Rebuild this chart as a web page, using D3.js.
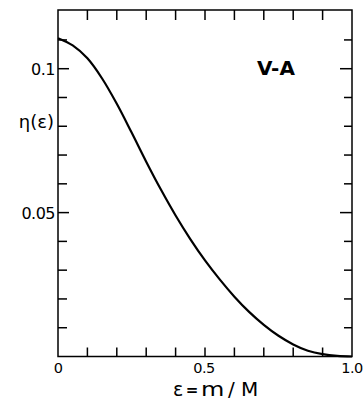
<!DOCTYPE html>
<html><head><meta charset="utf-8">
<script src="https://cdn.jsdelivr.net/npm/d3@7"></script>
<style>body{margin:0;background:#fff}svg{display:block}text{font-family:"DejaVu Sans",sans-serif;fill:#000}</style>
</head><body>
<svg id="c" width="363" height="402"></svg>
<script>
const epsilon = [0,0.05,0.1,0.15,0.2,0.25,0.3,0.35,0.4,0.45,0.5,0.55,0.6,0.65,0.7,0.75,0.8,0.85,0.9,0.95,1.0];
const eta = [0.1106,0.1081,0.1036,0.0966,0.0878,0.0779,0.0677,0.0580,0.0490,0.0408,0.0334,0.0268,0.0208,0.0155,0.0110,0.0072,0.0042,0.0020,0.0008,0.0002,0];
const xTickLabels = ["0","0.5","1.0"];
const yTickLabels = ["0.05","0.1"];

const svg = d3.select("#c");
const L=58,R=352,T=10,B=356.5;
const x = d3.scaleLinear().domain([0,1]).range([L,R]);
const y = d3.scaleLinear().domain([0,0.1204]).range([B,T]);

// frame
svg.append("rect").attr("x",L).attr("y",T).attr("width",R-L).attr("height",B-T)
  .attr("fill","none").attr("stroke","#000").attr("stroke-width",1.5);

const xt = d3.range(1,10).map(i=>i/10);
const yt = d3.range(1,12).map(i=>i/100);
const g = svg.append("g").attr("stroke","#000").attr("stroke-width",1.5);
xt.forEach(v=>{
  g.append("line").attr("x1",x(v)).attr("x2",x(v)).attr("y1",B).attr("y2",B-9);
  g.append("line").attr("x1",x(v)).attr("x2",x(v)).attr("y1",T).attr("y2",T+10);
});
yt.forEach(v=>{
  const major = Math.abs(v-0.1)<1e-9 || Math.abs(v-0.05)<1e-9;
  g.append("line").attr("x1",L).attr("x2",L+(major?11:9)).attr("y1",y(v)).attr("y2",y(v));
  g.append("line").attr("x1",R).attr("x2",R-(major?12:8)).attr("y1",y(v)).attr("y2",y(v));
});

// tick labels
const xv=[0,0.5,1.0];
xTickLabels.forEach((t,i)=>{
  svg.append("text").attr("x",x(xv[i])-(i==1?1:0)).attr("y",373).attr("text-anchor","middle")
    .attr("font-size",14.5).attr("letter-spacing",-0.5).text(t);
});
const yv=[0.05,0.1];
yTickLabels.forEach((t,i)=>{
  svg.append("text").attr("x",55).attr("y",y(yv[i])+6).attr("text-anchor","end")
    .attr("font-size",16).attr("letter-spacing",-0.5).text(t);
});

// axis titles
svg.append("text").attr("x",54).attr("y",128).attr("text-anchor","end").attr("font-size",18).text("η(ε)");
const tg = svg.append("g");
tg.append("text").attr("x",173).attr("y",396).attr("font-size",19).text("ε");
tg.append("text").attr("x",192).attr("y",395).attr("text-anchor","middle").attr("font-size",15).attr("font-weight","bold").text("=");
tg.append("text").attr("x",201).attr("y",396).attr("font-size",20).attr("transform","translate(201,0) scale(1.2,1) translate(-201,0)").text("m");
tg.append("text").attr("x",228).attr("y",396).attr("font-size",20).text("/");
tg.append("text").attr("x",241).attr("y",396).attr("font-size",20).text("M");

// annotation
svg.append("text").attr("x",276).attr("y",75).attr("text-anchor","middle").attr("font-size",20)
  .attr("font-weight","bold").text("V-A");

// curve
const line = d3.line().x((d,i)=>x(epsilon[i])).y(d=>y(d)).curve(d3.curveCatmullRom);
svg.append("path").attr("d",line(eta)).attr("fill","none").attr("stroke","#000").attr("stroke-width",2.2);
</script>
</body></html>
